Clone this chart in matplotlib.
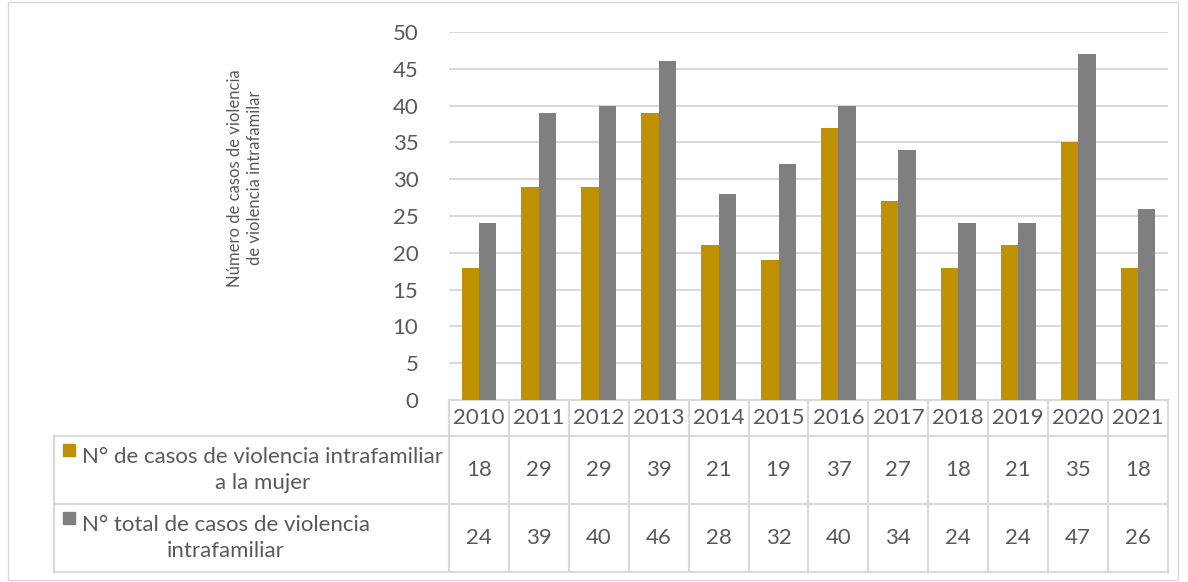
import matplotlib.pyplot as plt
import matplotlib.transforms as mtransforms
from matplotlib.patches import Rectangle
import numpy as np

plt.rcParams['font.family'] = ['Lato', 'DejaVu Sans']

years = ['2010', '2011', '2012', '2013', '2014', '2015', '2016', '2017', '2018', '2019', '2020', '2021']
mujer = [18, 29, 29, 39, 21, 19, 37, 27, 18, 21, 35, 18]
total = [24, 39, 40, 46, 28, 32, 40, 34, 24, 24, 47, 26]
series_names = ['N° de casos de violencia intrafamiliar\na la mujer',
                'N° total de casos de violencia\nintrafamiliar']
colors = ['#BF9000', '#7F7F7F']
txt = '#595959'
grid = '#D9D9D9'

W, H = 1188, 582
fig = plt.figure(figsize=(W / 100, H / 100), dpi=100)

def fy(py):
    return 1 - py / H

ax = fig.add_axes([449 / W, fy(400), (1168 - 449) / W, (400 - 32) / H])
x = np.arange(len(years))
bw = 0.29
ax.bar(x - bw / 2, mujer, bw, color=colors[0], zorder=3)
ax.bar(x + bw / 2, total, bw, color=colors[1], zorder=3)
ax.set_xlim(-0.5, len(years) - 0.5)
ax.set_ylim(0, 50)
ax.set_yticks(range(0, 51, 5))
ax.yaxis.grid(True, color=grid, lw=1.5, zorder=0)
ax.set_axisbelow(True)
ax.set_xticks([])
ax.tick_params(axis='y', length=0, pad=22, labelsize=16, labelcolor=txt)
for s in ax.spines.values():
    s.set_visible(False)

# y label
fig.text(245 / W, fy(178), 'Número de casos de violencia\nde violencia intrafamilar',
         rotation=90, ha='center', va='center', multialignment='center',
         fontsize=12, color=txt, linespacing=1.25)

# data table
tr = mtransforms.blended_transform_factory(ax.transData, fig.transFigure)
rows = [400, 436, 504, 572]
left_px = 54
lw = 1.5
ax.plot([-0.5, len(years) - 0.5], [fy(rows[0])] * 2, transform=tr, color=grid, lw=lw, clip_on=False)
for r in rows[1:]:
    fig.add_artist(plt.Line2D([left_px / W, 1168 / W], [fy(r)] * 2, color=grid, lw=lw))
for i in range(len(years) + 1):
    ax.plot([i - 0.5] * 2, [fy(rows[0]), fy(rows[-1])], transform=tr, color=grid, lw=lw, clip_on=False)
fig.add_artist(plt.Line2D([left_px / W] * 2, [fy(rows[1]), fy(rows[-1])], color=grid, lw=lw))

for i, yr in enumerate(years):
    ax.text(i, fy((rows[0] + rows[1]) / 2), yr, transform=tr, ha='center', va='center',
            fontsize=16, color=txt)
    ax.text(i, fy((rows[1] + rows[2]) / 2), str(mujer[i]), transform=tr, ha='center', va='center',
            fontsize=16, color=txt)
    ax.text(i, fy((rows[2] + rows[3]) / 2), str(total[i]), transform=tr, ha='center', va='center',
            fontsize=16, color=txt)

for k, name in enumerate(series_names):
    top, bot = rows[k + 1], rows[k + 2]
    cy = (top + bot) / 2
    fig.text(82 / W, fy(cy), name, ha='left', va='center', multialignment='center',
             fontsize=16, color=txt, linespacing=1.35)
    fig.add_artist(Rectangle((63 / W, fy(cy - 14)), 12 / W, 12 / H,
                             transform=fig.transFigure, color=colors[k]))

# chart frame
fig.add_artist(Rectangle((8 / W, 2 / H), 1170 / W, 578 / H, transform=fig.transFigure,
                         fill=False, edgecolor=grid, lw=1))

fig.savefig('out.png', dpi=100)
